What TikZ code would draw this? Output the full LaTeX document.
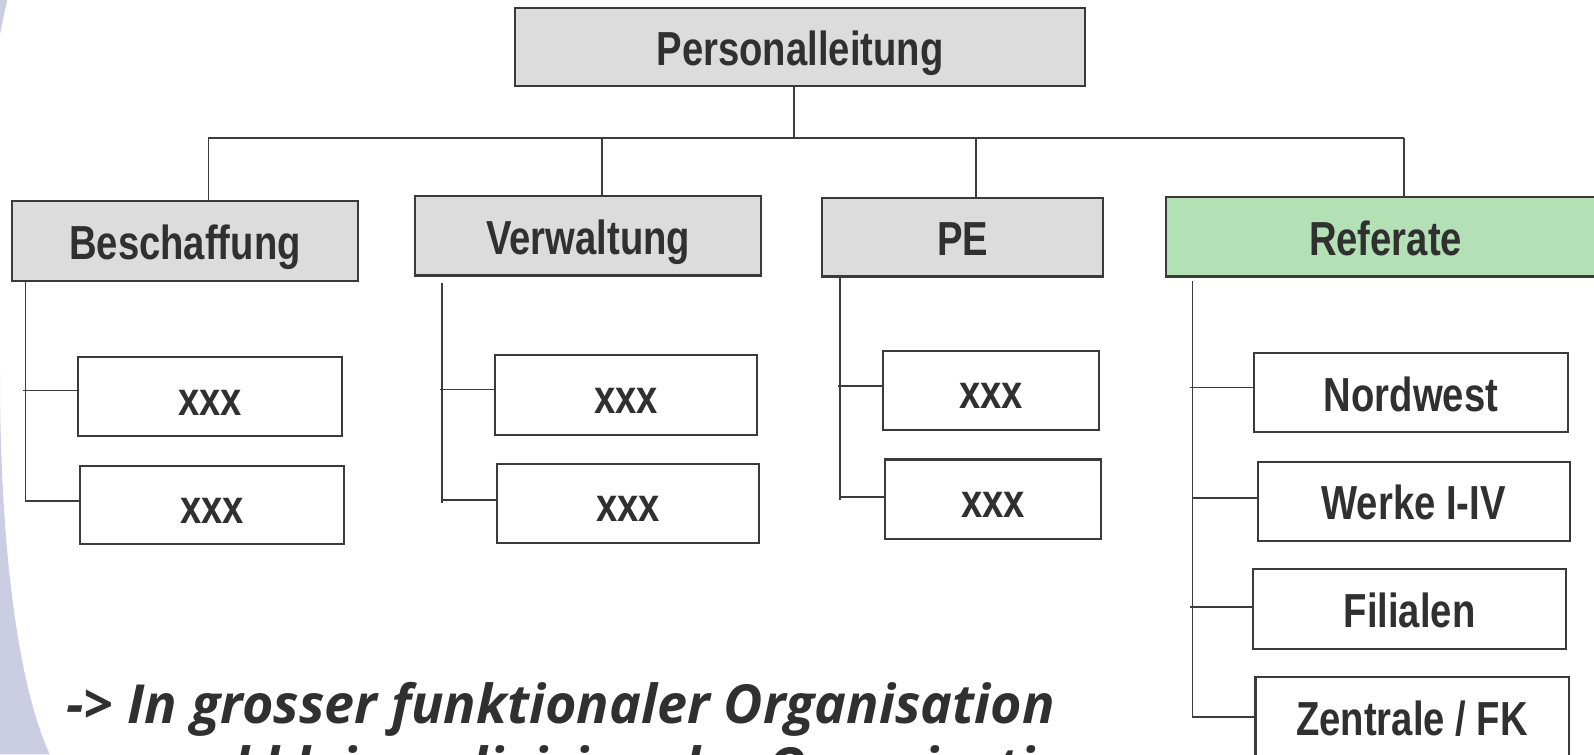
\documentclass[tikz,border=0pt]{standalone}
\usepackage{fontspec}
\newfontfamily\boxfont{Liberation Sans}[FakeStretch=0.8]
\newfontfamily\notefont{Open Sans}
\definecolor{boxline}{RGB}{58,58,58}
\definecolor{txt}{RGB}{48,48,48}
\definecolor{grayfill}{RGB}{220,220,220}
\definecolor{greenfill}{RGB}{179,224,181}
\definecolor{lav}{RGB}{203,206,227}
\definecolor{wire}{RGB}{60,60,60}
\tikzset{
  box/.style={draw=boxline, line width=1pt, fill=white, inner sep=0pt,
    minimum height=39pt, text=txt, text height=23pt, text depth=4.7pt,
    font=\boxfont\bfseries\fontsize{23.5}{28}\selectfont},
  head/.style={box, fill=grayfill},
  headg/.style={box, fill=greenfill},
  wireline/.style={draw=wire, line width=0.8pt},
  note/.style={anchor=base west, inner sep=0pt, text=txt,
    font=\notefont\bfseries\itshape\fontsize{26.5}{30}\selectfont}
}
\begin{document}
\begin{tikzpicture}[x=0.5pt,y=-0.5pt]
\useasboundingbox (0,0) rectangle (1568,742);
\clip (0,0) rectangle (1568,742);
% background sweep
\fill[lav] (0,0) -- (7,0) .. controls (4,15) and (1,28) .. (0,34) -- cycle;
\fill[lav] (0,368) .. controls (0,550) and (20,680) .. (49,742) -- (0,742) -- cycle;

% top
\node[head, minimum width=280pt, minimum height=38.5pt] (pl) at (787,46.5) {Personalleitung};
% level 2
\node[head, minimum width=170pt] (bes) at (182,237) {Beschaffung};
\node[head, minimum width=170.5pt] (ver) at (578.5,232) {Verwaltung};
\node[head, minimum width=138pt, minimum height=38.5pt] (pe) at (947,233.5) {PE};
\node[headg, minimum width=216pt] (ref) at (1363,233) {Referate};
% level 3
\node[box, minimum width=129.5pt] (b1) at (206.5,390) {xxx};
\node[box, minimum width=129.5pt, minimum height=38.5pt] (b2) at (208.5,496.5) {xxx};
\node[box, minimum width=129pt] (v1) at (616,388.5) {xxx};
\node[box, minimum width=129pt] (v2) at (618,495) {xxx};
\node[box, minimum width=106pt] (p1) at (975,384) {xxx};
\node[box, minimum width=106pt] (p2) at (977,491) {xxx};
\node[box, minimum width=154pt] (r1) at (1388,386) {Nordwest};
\node[box, minimum width=153.5pt] (r2) at (1390.5,493) {Werke I-IV};
\node[box, minimum width=153.5pt] (r3) at (1386.5,599) {Filialen};
\node[box, minimum width=154pt] (r4) at (1389,705) {Zentrale / FK};

% bus
\coordinate (top) at (781,136);
\coordinate (dB) at (205,136);
\coordinate (dV) at (592,136);
\coordinate (dP) at (960,136);
\coordinate (dR) at (1381,136);
\draw[wireline] (top |- pl.south) -- (top);
\draw[wireline] (dB) -- (dR);
\draw[wireline] (dB) -- (dB |- bes.north);
\draw[wireline] (dV) -- (dV |- ver.north);
\draw[wireline] (dP) -- (dP |- pe.north);
\draw[wireline] (dR) -- (dR |- ref.north);

% Beschaffung branch
\draw[wireline] (25,276 |- bes.south) -- (25,494);
\draw[wireline] (23,384) -- (23,384 -| b1.west);
\draw[wireline] (25,493) -- (25,493 -| b2.west);
% Verwaltung branch
\draw[wireline] (435,278) -- (435,495);
\draw[wireline] (433,383) -- (433,383 -| v1.west);
\draw[wireline] (435,492) -- (435,492 -| v2.west);
% PE branch
\draw[wireline] (826,272 |- pe.south) -- (826,492);
\draw[wireline] (824,380) -- (824,380 -| p1.west);
\draw[wireline] (826,489) -- (826,489 -| p2.west);
% Referate branch
\draw[wireline] (1173,276) -- (1173,706);
\draw[wireline] (1171,381) -- (1171,381 -| r1.west);
\draw[wireline] (1173,490) -- (1173,490 -| r2.west);
\draw[wireline] (1171,597) -- (1171,597 -| r3.west);
\draw[wireline] (1173,705) -- (1173,705 -| r4.west);

% note
\node[note] (n1) at (65,712) {-> In grosser funktionaler Organisation};
\node[note] (n2) at (150,774) {und kleiner divisionaler Organisation};
\end{tikzpicture}
\end{document}
